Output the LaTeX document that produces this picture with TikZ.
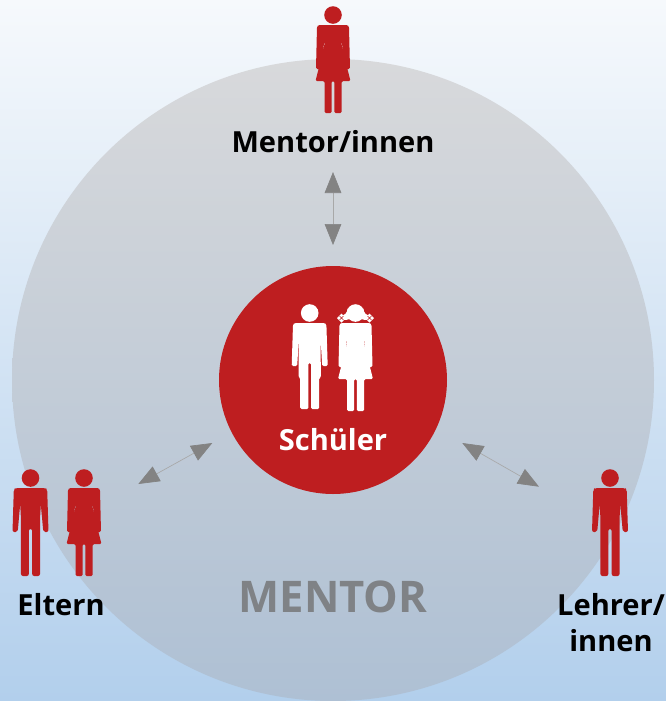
\documentclass[tikz,border=0pt]{standalone}
\usepackage{fontspec}
\setmainfont{Open Sans}
\usetikzlibrary{arrows.meta}
\definecolor{figred}{HTML}{BE1E20}
\definecolor{arrowgray}{HTML}{838383}
\definecolor{mentorgray}{HTML}{7F8286}

\tikzset{
  figlabel/.style={font=\bfseries\fontsize{21.8}{27}\selectfont, text=black, align=center, inner sep=0pt},
  bigtip/.tip={Triangle[length=15.75pt,width=12.5pt,color=arrowgray,fill=arrowgray]},
  arrowline/.style={draw=arrowgray!70, line width=0.5pt, bigtip-bigtip},
  pics/man/.style={code={
    \fill[#1] (0,0) circle (8.8);
    \fill[#1, rounded corners=1.5] (-15,10) -- (15,10) -- (16.7,11.5) -- (18,54) -- (12.8,54) -- (10.3,26) -- (9.6,40)
      -- (9.5,98) -- (1.7,98) -- (1.7,51) -- (-1.7,51) -- (-1.7,98) -- (-9.5,98) -- (-9.6,40) -- (-10.3,26)
      -- (-12.8,54) -- (-18,54) -- (-16.7,11.5) -- cycle;
  }},
  pics/woman/.style={code={
    \fill[#1] (0,0) circle (8.8);
    \fill[#1, rounded corners=1] (-14.5,10) -- (14.5,10) -- (16,11.5) -- (17,54) -- (11.5,54) -- (8.6,24) -- (8.8,32)
      -- (17.5,66) -- (8.7,66) -- (8.7,98) -- (1.3,98) -- (1.3,66) -- (-1.3,66) -- (-1.3,98) -- (-8.5,98) -- (-8.5,66)
      -- (-17.5,66) -- (-8.8,32) -- (-8.6,24) -- (-11.5,54) -- (-17,54) -- (-16,11.5) -- cycle;
  }},
  pics/boy/.style={code={
    \fill[#1] (0,0) circle (8.8);
    \fill[#1, rounded corners=1] (-15,10) -- (15,10) -- (16.7,11.5) -- (18,53) -- (12.5,53) -- (10.8,24) -- (11.2,64.5)
      -- (9.5,64.5) -- (9.5,96) -- (1.3,96) -- (1.3,50) -- (-1.3,50) -- (-1.3,96) -- (-9.5,96) -- (-9.5,64.5) -- (-11.2,64.5)
      -- (-10.8,24) -- (-12.5,53) -- (-18,53) -- (-16.7,11.5) -- cycle;
  }},
}

\begin{document}
\begin{tikzpicture}[x=0.75pt, y=-0.75pt]
\useasboundingbox (0,0) rectangle (666,701);

% background and the two discs
\shade[top color={rgb,255:red,246;green,249;blue,252}, bottom color={rgb,255:red,178;green,207;blue,236}] (0,0) rectangle (666,701);
\shade[top color={rgb,255:red,216;green,217;blue,219}, bottom color={rgb,255:red,174;green,192;blue,212}] (333,380) circle (321);
\fill[figred] (333,380) circle (114);

% figures
\pic at (333,15) {woman=figred};
\pic at (30.5,478) {man=figred};
\pic at (84,478) {woman=figred};
\pic at (610,478) {man=figred};
\pic at (309.7,313) {boy=white};
\pic at (355.5,313) {woman=white};

% pigtails
\fill[white] (348,308) .. controls (347,313) and (345,315) .. (342,316) -- (342,320) .. controls (345,320) and (348,320) .. (350,319) -- cycle;
\fill[white] (363,308) .. controls (364,313) and (366,315) .. (369,316) -- (369,320) .. controls (366,320) and (363,320) .. (361,319) -- cycle;
\foreach \bowx in {341.5,369.5} {
  \fill[white] (\bowx-4.5,318) -- (\bowx,313.5) -- (\bowx+4.5,318) -- (\bowx,322.5) -- cycle;
  \draw[figred, line width=0.5pt] (\bowx-2,316) -- (\bowx+2,320) (\bowx-2,320) -- (\bowx+2,316);
}

% labels
\node[figlabel] (mentorinnen) at (333,142) {Mentor/innen};
\node[figlabel] (eltern) at (61,605) {Eltern};
\node[figlabel] (lehrer) at (611,622.5) {Lehrer/\\innen};
\node[figlabel, text=white] (schueler) at (333,440) {Schüler};
\node[font=\bfseries\fontsize{32.7}{36}\selectfont, text=mentorgray, inner sep=0pt] (mentor) at (333,597) {MENTOR};

% connectors
\coordinate (topa) at (333,172);
\coordinate (topb) at (333,245);
\coordinate (lefta) at (138.3,484);
\coordinate (leftb) at (212.3,443);
\coordinate (righta) at (462.3,443);
\coordinate (rightb) at (539,486.7);
\draw[arrowline] (topa) -- (topb);
\draw[arrowline] (lefta) -- (leftb);
\draw[arrowline] (righta) -- (rightb);

\end{tikzpicture}
\end{document}
